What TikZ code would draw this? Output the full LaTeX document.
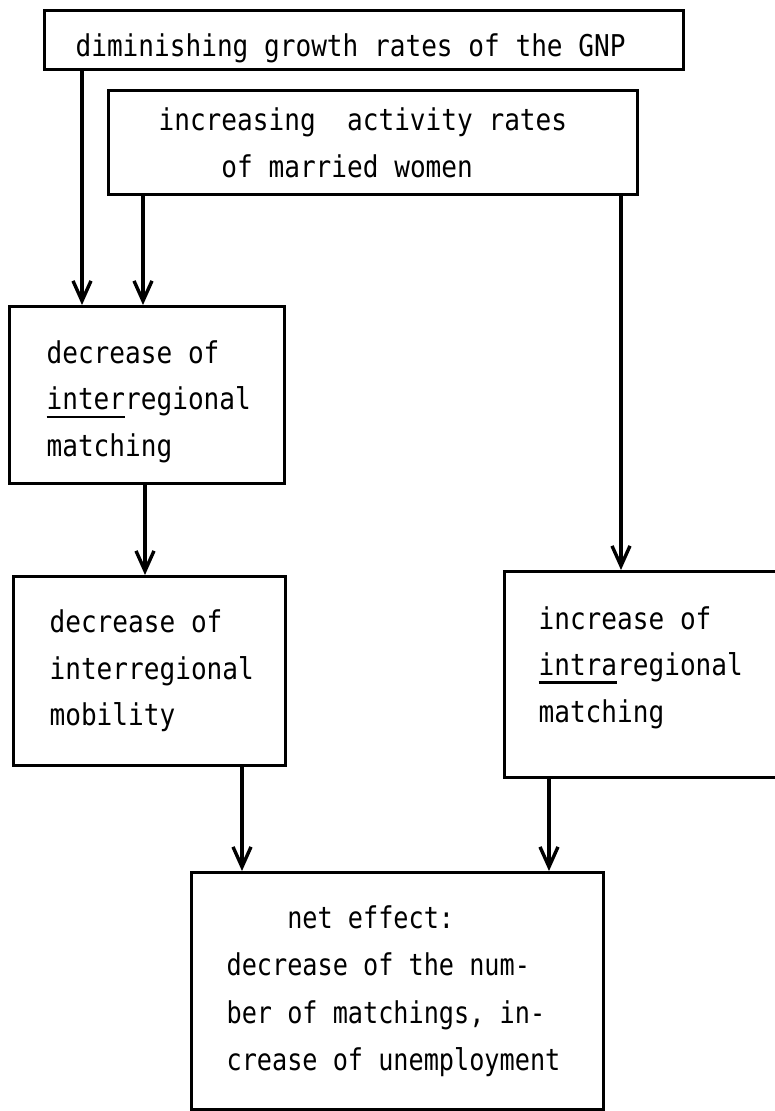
\documentclass[tikz,border=0pt]{standalone}
\usepackage{fontspec}
\usepackage{tikz}
\usetikzlibrary{arrows.meta, positioning, calc}
\newfontfamily\typew[FakeStretch=0.87]{DejaVu Sans Mono}
\newfontfamily\typen[FakeStretch=0.84]{DejaVu Sans Mono}
\newcommand{\typeul}[1]{\leavevmode\setbox0\hbox{#1}\rlap{\rule[-8pt]{\wd0}{2.2pt}}\box0}

\begin{document}
\begin{tikzpicture}[
    x=1pt, y=-1pt,
    box/.style={rectangle, draw, line width=3.2pt, anchor=north west, inner ysep=0pt, align=left, font=\typew\fontsize{30pt}{46.5pt}\selectfont, execute at begin node={\spaceskip=\fontcharwd\font`x\relax\xspaceskip=\spaceskip\hyphenpenalty=10000\relax}},
    arrow/.style={-{Straight Barb[length=20pt, width=18pt, line width=3.4pt]}, line width=3.2pt}
]
    \clip (0,0) rectangle (775,1111);

    \node[box, minimum width=639pt, minimum height=59pt, inner xsep=31pt, text width=577pt, text height=40pt, text depth=7pt] (gnp) at (43,9) {diminishing growth rates of the GNP};

    \node[box, minimum width=529pt, minimum height=104pt, inner xsep=50pt, text width=429pt] (women) at (107,89) {increasing\phantom{x} activity rates\\\phantom{xxxx}of married women};

    \node[box, minimum width=275pt, minimum height=177pt, inner xsep=37pt, text width=201pt, text height=36pt] (inter) at (8,305) {decrease of\\\typeul{inter}regional\\matching};

    \node[box, minimum width=272pt, minimum height=189pt, inner xsep=36pt, text width=200pt] (mobil) at (12,575) {decrease of\\interregional\\mobility};

    \node[box, minimum width=276pt, minimum height=206pt, inner xsep=34pt, text width=208pt, text depth=114pt] (intra) at (503,570) {increase of\\\typeul{intra}regional\\matching};

    \node[box, minimum width=412pt, minimum height=237pt, inner xsep=35pt, text width=342pt, font=\typen\fontsize{30pt}{47.5pt}\selectfont] (net) at (190,871) {\phantom{xxxx}net effect:\\decrease of the num-\\ber of matchings, in-\\crease of unemployment};

    % arrow start points
    \coordinate (g1) at ([xshift=39pt]gnp.south west);
    \coordinate (w1) at ([xshift=36pt]women.south west);
    \coordinate (w2) at ([xshift=514pt]women.south west);
    \coordinate (i1) at ([xshift=137pt]inter.south west);
    \coordinate (m1) at ([xshift=230pt]mobil.south west);
    \coordinate (r1) at ([xshift=46pt]intra.south west);

    \draw[arrow] (g1) -- (g1 |- inter.north);
    \draw[arrow] (w1) -- (w1 |- inter.north);
    \draw[arrow] (w2) -- (w2 |- intra.north);
    \draw[arrow] (i1) -- (i1 |- mobil.north);
    \draw[arrow] (m1) -- (m1 |- net.north);
    \draw[arrow] (r1) -- (r1 |- net.north);
\end{tikzpicture}
\end{document}
